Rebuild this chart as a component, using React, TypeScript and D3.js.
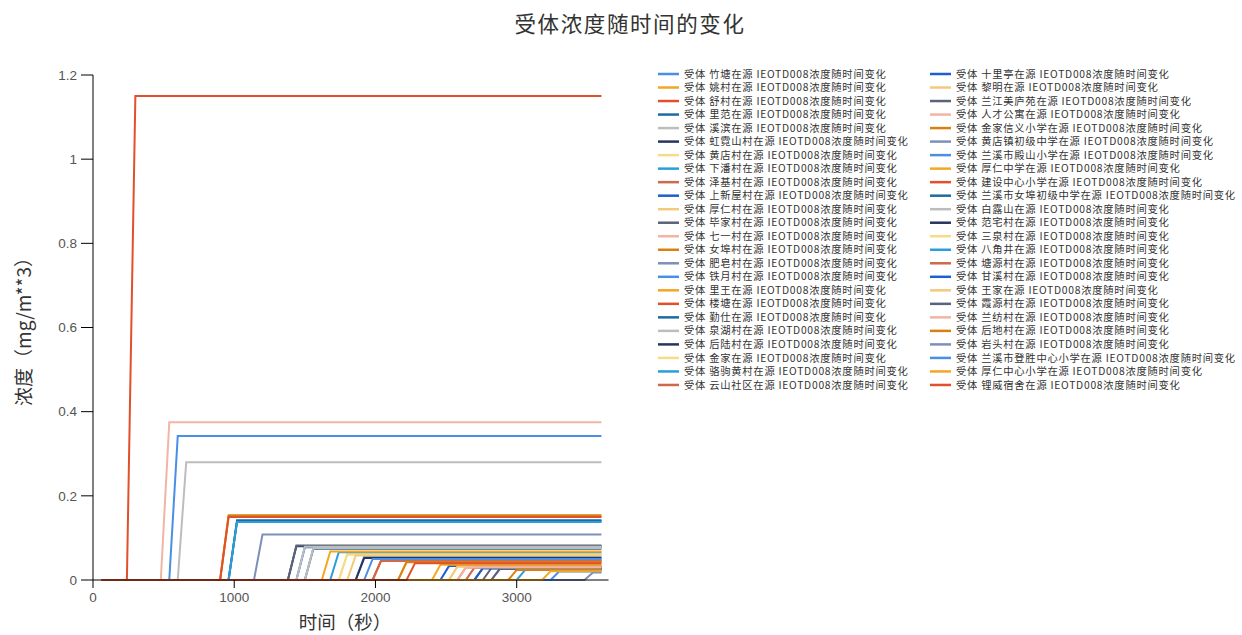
import React from 'react';
import * as d3 from 'd3';

// ---------- data ----------
const receptorNames: string[] = [
  '竹塘', '姚村', '舒村', '里范', '溪滨', '虹霓山村', '黄店村', '下潘村', '泽基村', '上新屋村',
  '厚仁村', '毕家村', '七一村', '女埠村', '肥皂村', '铁月村', '里王', '楼塘', '勤仕', '泉湖村',
  '后陆村', '金家', '骆驹黄村', '云山社区',
  '十里亭', '黎明', '兰江美庐苑', '人才公寓', '金家信义小学', '黄店镇初级中学', '兰溪市殿山小学', '厚仁中学',
  '建设中心小学', '兰溪市女埠初级中学', '白露山', '范宅村', '三泉村', '八角井', '塘源村', '甘溪村',
  '王家', '霞源村', '兰纺村', '后地村', '岩头村', '兰溪市登胜中心小学', '厚仁中心小学', '锂威宿舍',
];

// time (s) at which each receptor first reaches its plateau concentration
const onsetTimes: number[] = [
  600, 960, 300, 1020, 660, 1440, 1800, 1740, 2640, 1500,
  2220, 1440, 540, 960, 1200, 1920, 1680, 2040, 1560, 1560,
  1920, 2580, 3060, 2040,
  2520, 2580, 2820, 2700, 2220, 2880, 1980, 2460,
  960, 1020, 1500, 2760, 1800, 1020, 2700, 2760,
  1860, 2880, 2640, 3000, 3540, 3300, 3240, 2280,
];

// plateau concentration (mg/m**3) of each receptor
const plateauValues: number[] = [
  0.342, 0.151, 1.15, 0.142, 0.28, 0.080, 0.062, 0.066, 0.030, 0.078,
  0.044, 0.082, 0.375, 0.154, 0.108, 0.055, 0.068, 0.047, 0.074, 0.076,
  0.052, 0.031, 0.024, 0.045,
  0.033, 0.032, 0.028, 0.029, 0.042, 0.027, 0.050, 0.036,
  0.150, 0.140, 0.079, 0.028, 0.060, 0.138, 0.029, 0.028,
  0.058, 0.026, 0.030, 0.024, 0.018, 0.020, 0.021, 0.040,
];

const seriesColors: string[] = [
  '#4a8fe6', '#f6a623', '#e1502a', '#1d6ba0', '#bdbdbd',
  '#26345f', '#f7dc86', '#2a9edb', '#cf694b', '#1b5fd0',
  '#f5c97c', '#5a6379', '#f2b4a5', '#d9800f', '#7d90b8',
];

const timeSteps: number[] = d3.range(60, 3601, 60);
const xTicks: number[] = [0, 1000, 2000, 3000];
const yTicks: number[] = [0, 0.2, 0.4, 0.6, 0.8, 1, 1.2];

const titleText = '受体浓度随时间的变化';
const xLabel = '时间（秒）';
const yLabel = '浓度（mg/m**3）';

// ---------- layout ----------
const W = 1242;
const H = 635;
const plot = { left: 93, right: 608.5, top: 75, bottom: 580 };
const cjk = '"Noto Sans CJK SC", "Noto Sans", sans-serif';
const latin = '"Liberation Sans", Arial, sans-serif';

export default function App() {
  const x = d3.scaleLinear().domain([0, 3650]).range([plot.left, plot.right]);
  const y = d3.scaleLinear().domain([0, 1.2]).range([plot.bottom, plot.top]);
  const line = d3
    .line<[number, number]>()
    .x((d) => x(d[0]))
    .y((d) => y(d[1]));

  const series = receptorNames.map((name, i) => ({
    name,
    color: seriesColors[i % seriesColors.length],
    points: timeSteps.map((t) => [t, t >= onsetTimes[i] ? plateauValues[i] : 0] as [number, number]),
  }));

  const perCol = 24;
  const legendX = [658, 930];
  const legendY0 = 74;
  const legendDy = 13.52;

  return (
    <svg
      width={W}
      height={H}
      style={{ position: 'absolute', left: 0, top: 0, background: '#fff' }}
    >
      <text x={630} y={32} textAnchor="middle" fontFamily={cjk} fontSize={21.5} fill="#333" letterSpacing={1.6}>
        {titleText}
      </text>

      {/* lines */}
      <g>
        {series.map((s, i) => (
          <path key={i} d={line(s.points) || ''} fill="none" stroke={s.color} strokeWidth={2} strokeLinejoin="miter" />
        ))}
      </g>

      {/* y axis */}
      <g>
        <line x1={plot.left} x2={plot.left} y1={plot.top} y2={plot.bottom} stroke="#000" strokeWidth={1} />
        {yTicks.map((t) => (
          <g key={t}>
            <line x1={plot.left - 12} x2={plot.left} y1={y(t)} y2={y(t)} stroke="#000" strokeWidth={1} />
            <text x={plot.left - 16} y={y(t)} dy="0.35em" textAnchor="end" fontFamily={latin} fontSize={13.5} fill="#555">
              {d3.format('~g')(t)}
            </text>
          </g>
        ))}
      </g>

      {/* x axis */}
      <g>
        <line x1={plot.left} x2={plot.right} y1={plot.bottom} y2={plot.bottom} stroke="#000" strokeWidth={1} />
        {xTicks.map((t) => (
          <g key={t}>
            <line x1={x(t)} x2={x(t)} y1={plot.bottom} y2={plot.bottom + 8} stroke="#000" strokeWidth={1} />
            <text x={x(t)} y={plot.bottom + 22} textAnchor="middle" fontFamily={latin} fontSize={13.5} fill="#555">
              {t}
            </text>
          </g>
        ))}
      </g>

      <text x={345} y={629} textAnchor="middle" fontFamily={cjk} fontSize={18.5} fill="#333">
        {xLabel}
      </text>
      <text
        transform={`translate(31, 327) rotate(-90)`}
        textAnchor="middle"
        fontFamily={cjk}
        fontSize={19}
        fill="#333"
      >
        {yLabel}
      </text>

      {/* legend */}
      <g>
        {series.map((s, i) => {
          const col = Math.floor(i / perCol);
          const row = i % perCol;
          const lx = legendX[col];
          const ly = legendY0 + row * legendDy;
          return (
            <g key={i}>
              <line x1={lx} x2={lx + 21} y1={ly} y2={ly} stroke={s.color} strokeWidth={2.5} />
              <text x={lx + 26} y={ly} dy="0.35em" fontFamily={cjk} fontSize={10.3} fill="#333" letterSpacing={0.75}>
                {`受体 ${s.name}在源 IEOTD008浓度随时间变化`}
              </text>
            </g>
          );
        })}
      </g>
    </svg>
  );
}
